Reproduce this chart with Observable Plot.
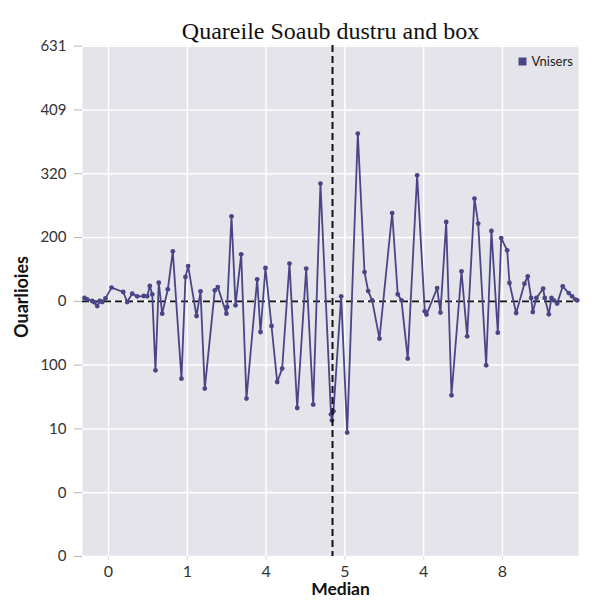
<!DOCTYPE html>
<html>
<head>
<meta charset="utf-8">
<script src="https://cdn.jsdelivr.net/npm/d3@7"></script>
<script src="https://cdn.jsdelivr.net/npm/@observablehq/plot@0.6"></script>
<style>
  html, body { margin: 0; padding: 0; background: #ffffff; }
  #chart { width: 600px; height: 600px; }
</style>
</head>
<body>
<div id="chart"></div>
<script>
// ---- Data ----
const titleText = "Quareile Soaub dustru and box";
const yAxisLabel = "Ouarlioies";
const xAxisLabel = "Median";
const seriesName = "Vnisers";

const xTickPositions = [0, 1, 2, 3, 4, 5];
const xTickLabels = ["0", "1", "4", "5", "4", "8"];

const yTickPositions = [400, 300, 200, 100, 0, -100, -200, -300, -400];
const yTickLabels = ["631", "409", "320", "200", "0", "100", "10", "0", "0"];

const medianPosition = 2.843;
const baselineValue = 0;

const positions = [
  -0.305, -0.270, -0.207, -0.178, -0.143, -0.110, -0.080, -0.038, 0.038, 0.187,
  0.237, 0.301, 0.364, 0.448, 0.491, 0.524, 0.555, 0.596, 0.638, 0.681,
  0.753, 0.816, 0.926, 0.977, 1.011, 1.117, 1.168, 1.222, 1.349, 1.387,
  1.497, 1.506, 1.561, 1.612, 1.684, 1.751, 1.887, 1.929, 1.992, 2.069,
  2.141, 2.204, 2.297, 2.395, 2.509, 2.598, 2.690, 2.824, 2.836, 2.855,
  2.953, 3.029, 3.164, 3.249, 3.296, 3.346, 3.439, 3.600, 3.671, 3.718,
  3.798, 3.917, 4.014, 4.036, 4.171, 4.213, 4.286, 4.353, 4.480, 4.552,
  4.645, 4.692, 4.793, 4.860, 4.941, 4.984, 5.060, 5.089, 5.174, 5.279,
  5.321, 5.364, 5.385, 5.431, 5.516, 5.537, 5.588, 5.622, 5.651, 5.694,
  5.765, 5.841, 5.884, 5.926, 5.948
];
const values = [
  5.2, 3.1, 0.5, -1.6, -7.4, 0.5, -1.1, 4.7, 21.5, 14.6,
  -1.1, 12.1, 7.8, 8.3, 7.8, 24.0, 11.0, -108.2, 29.3, -19.3,
  18.8, 78.4, -121.2, 38.1, 55.3, -23.0, 15.7, -136.8, 17.2, 22.4,
  -19.3, -8.9, 133.2, -6.3, 73.7, -152.5, 34.5, -48.1, 52.2, -38.7,
  -126.5, -105.5, 59.1, -167.2, 51.3, -161.9, 184.5, -177.1, -186.5, -172.4,
  7.8, -205.8, 262.9, 45.9, 16.1, 1.6, -58.5, 138.4, 11.0, 1.6,
  -89.8, 197.5, -15.7, -20.8, 20.8, -17.7, 124.3, -147.3, 47.0, -54.9,
  161.0, 121.8, -100.3, 110.2, -49.1, 99.2, 79.9, 28.7, -18.3, 27.7,
  39.2, 5.2, -16.8, 5.2, 19.9, 5.2, -20.4, 5.2, 1.6, -3.6,
  23.5, 13.0, 7.8, 2.7, 1.6
];

// ---- Build table ----
const data = positions.map((p, i) => ({pos: p, val: values[i]}));
const yLabelMap = new Map(yTickPositions.map((v, i) => [v, yTickLabels[i]]));

const lineColor = "#4a4586";
const sans = "Lato, 'Open Sans', sans-serif";

const chart = Plot.plot({
  width: 600,
  height: 600,
  marginLeft: 82,
  marginRight: 22,
  marginTop: 45,
  marginBottom: 44,
  style: {background: "#ffffff", color: "#333333", fontFamily: sans, overflow: "visible"},
  x: {domain: [-0.33, 5.965], axis: null},
  y: {domain: [-400, 401], axis: null},
  marks: [
    Plot.frame({fill: "#e4e4ea", stroke: null}),
    Plot.gridX(xTickPositions, {stroke: "#ffffff", strokeOpacity: 1, strokeWidth: 1.5}),
    Plot.gridY(yTickPositions, {stroke: "#ffffff", strokeOpacity: 1, strokeWidth: 1.5}),
    Plot.ruleY([baselineValue], {stroke: "#111111", strokeWidth: 1.8, strokeDasharray: "7,4"}),
    Plot.line(data, {x: "pos", y: "val", stroke: lineColor, strokeWidth: 1.8}),
    Plot.dot(data, {x: "pos", y: "val", r: 2.4, fill: lineColor, stroke: null}),
    Plot.ruleX([medianPosition], {stroke: "#111111", strokeWidth: 2, strokeDasharray: "7,4"}),
    Plot.axisY({
      ticks: yTickPositions,
      tickFormat: d => yLabelMap.get(d),
      tickSize: 8,
      tickPadding: 8,
      stroke: "#b5b5b5",
      fill: "#333333",
      fontSize: 15,
      label: null
    }),
    Plot.axisX({
      ticks: xTickPositions,
      tickFormat: d => xTickLabels[d],
      tickSize: 4,
      tickPadding: 5,
      stroke: "#dddddd",
      fill: "#333333",
      fontSize: 16,
      label: null
    }),
    // Title
    Plot.text([titleText], {
      text: d => d, frameAnchor: "top", lineAnchor: "middle", dy: -14,
      fontSize: 24, fontFamily: "'Liberation Serif', serif", fill: "#111111"
    }),
    // Axis labels
    Plot.text([yAxisLabel], {
      text: d => d, frameAnchor: "left", lineAnchor: "middle", textAnchor: "middle",
      dx: -60, dy: -4, rotate: -90,
      fontSize: 18, fontWeight: "bold", fill: "#111111"
    }),
    Plot.text([xAxisLabel], {
      text: d => d, frameAnchor: "bottom", lineAnchor: "middle", textAnchor: "middle",
      dx: 10, dy: 33,
      fontSize: 17.5, fontWeight: "bold", fill: "#111111"
    }),
    // Legend
    Plot.dot([seriesName], {
      frameAnchor: "top-right", dx: -56, dy: 16, symbol: "square", r: 4.5,
      fill: lineColor, stroke: null
    }),
    Plot.text([seriesName], {
      text: d => d, frameAnchor: "top-right", lineAnchor: "middle", textAnchor: "start",
      dx: -47, dy: 16, fontSize: 13, fill: "#222222"
    })
  ]
});

document.getElementById("chart").appendChild(chart);
</script>
</body>
</html>
